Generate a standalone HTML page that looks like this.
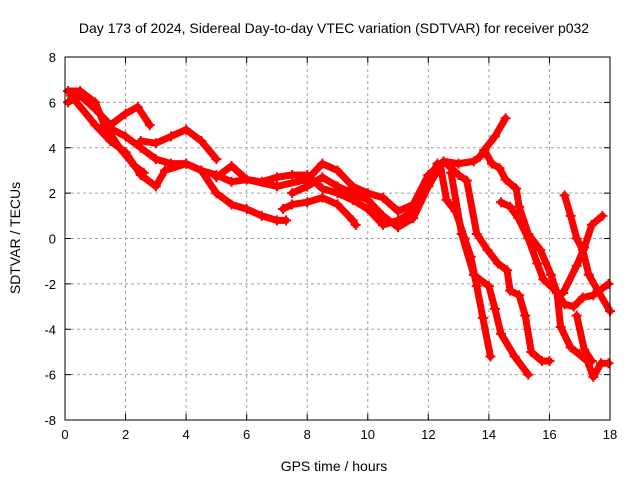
<!DOCTYPE html>
<html><head><meta charset="utf-8"><style>
body{margin:0;background:#fff}
svg{display:block;font-family:"Liberation Sans",sans-serif}
</style></head><body>
<svg id="chart" width="640" height="480" viewBox="0 0 640 480">
<text x="334" y="33" font-size="14" text-anchor="middle">Day 173 of 2024, Sidereal Day-to-day VTEC variation (SDTVAR) for receiver p032</text>
<text x="334" y="471" font-size="14" text-anchor="middle">GPS time / hours</text>
<text x="20" y="238" font-size="14" text-anchor="middle" transform="rotate(-90 20 238)">SDTVAR / TECUs</text>
<g id="grid"></g><g id="ticks"></g><g id="series"></g>
<rect x="65" y="57" width="545" height="363" fill="none" stroke="#000" stroke-width="1"/>
</svg>
<script>
const xTicks=[0,2,4,6,8,10,12,14,16,18];
const yTicks=[-8,-6,-4,-2,0,2,4,6,8];
const trackA=[[0.1,6.5],[0.5,6.5],[1,6],[1.3,5],[2,4.5],[2.5,4],[3,3.5],[3.5,3.3],[4,3.3],[4.5,3],[5,2.8],[5.5,2.5],[6,2.6],[6.5,2.5],[7,2.7],[7.5,2.8],[8,2.8],[8.5,2.2],[9,2],[9.5,1.7],[10,1.3],[10.5,0.6],[11,0.8],[11.5,1.2],[12,2.5],[12.3,3.3]];
const trackB=[[0.1,6],[0.5,6.3],[1,5.7],[1.5,5],[2,5.5],[2.4,5.8],[2.8,5]];
const trackB2=[[2.5,4.3],[3,4.2],[3.5,4.5],[4,4.8],[4.5,4.3],[5,3.5]];
const trackC=[[0.2,6.3],[1,5],[1.5,4.3],[2,3.8],[2.5,2.8],[3,2.3],[3.3,3],[4,3.3],[4.5,3],[5,2],[5.5,1.5],[6,1.3],[6.5,1],[7,0.8],[7.3,0.8]];
const trackC2=[[1.3,5],[1.8,4],[2.3,3.2],[2.6,2.9]];
const trackD=[[7.2,1.3],[7.5,1.5],[8,1.6],[8.5,1.8],[9,1.5],[9.5,0.8],[9.6,0.6]];
const trackE=[[5,2.7],[5.5,3.2],[6,2.6],[7,2.3],[8,2.6],[8.5,3.3],[9,3],[9.5,2.3],[10,2],[10.5,1.8],[11,1.2],[11.5,1.5],[12,2.8],[12.5,3.4],[13,3.3],[13.5,3.4],[13.7,3.6],[13.85,3.9],[14.2,4.5],[14.55,5.3]];
const trackF=[[7.5,2],[8,2.3],[8.5,2.7],[9,2.3],[10,1.7],[10.5,1],[11,0.5],[11.5,0.9],[12,2.3],[12.4,3.2],[12.6,1.7],[12.9,1.2],[13.2,0],[13.4,-0.8],[13.6,-2.1],[13.8,-3.5],[14.05,-5.2]];
const trackG=[[12.6,3.3],[13,2.8],[13.27,2.55],[13.6,0.2],[13.95,-0.5],[14.3,-1.1],[14.6,-1.4],[14.7,-2.3],[15,-2.5],[15.2,-3.4],[15.4,-5],[15.75,-5.4],[16,-5.4]];
const trackH=[[12.75,2.9],[13.1,0.2],[13.5,-1.6],[14,-2.1],[14.2,-3.1],[14.4,-4.2],[14.85,-5.2],[15.3,-6]];
const trackI=[[13.85,3.9],[14.1,3.3],[14.35,3.1],[14.55,2.6],[14.9,2.2],[15,1.4],[15.3,0.2],[15.7,-0.5],[16.05,-1.6],[16.25,-2.4],[16.37,-3.9],[16.7,-4.8],[17.25,-5.4],[17.45,-6.1],[17.7,-5.5],[17.95,-5.5]];
const trackJ=[[14.4,1.6],[14.7,1.4],[14.97,0.9],[15.3,0],[15.6,-1.1],[15.8,-1.8],[16.2,-2.3],[16.5,-2.9],[16.8,-3],[17.1,-2.6],[17.45,-2.5],[17.95,-2]];
const trackK=[[16.5,1.9],[16.7,1],[16.9,0],[17.1,-0.5],[17.3,-1.6],[17.6,-2.3],[18,-3.2]];
const trackL=[[16.45,-2.4],[16.9,-1.2],[17.15,-0.4],[17.4,0.6],[17.75,1]];
const trackM=[[16.9,-3.4],[17.15,-4.9],[17.4,-5.4]];
const tracks=[trackA,trackB,trackB2,trackC,trackC2,trackD,trackE,trackF,trackG,trackH,trackI,trackJ,trackK,trackL,trackM];
const X0=65,X1=610,Y0=420,Y1=57;
function xs(t){return X0+(t-0)/(18-0)*(X1-X0);}
function ys(v){return Y0-(v+8)/16*(Y0-Y1);}
const NS='http://www.w3.org/2000/svg';
function mk(tag,attrs,parent){const e=document.createElementNS(NS,tag);for(const k in attrs)e.setAttribute(k,attrs[k]);parent.appendChild(e);return e;}
const grid=document.getElementById('grid'),ticks=document.getElementById('ticks'),series=document.getElementById('series');
xTicks.forEach(t=>{const x=xs(t);
 if(t>0&&t<18){const g=mk('line',{x1:x,y1:Y0,x2:x,y2:Y1,stroke:'#a0a0a0','stroke-dasharray':'3,3'},grid);
 
 }
 mk('line',{x1:x,y1:Y0,x2:x,y2:Y0-6,stroke:'#000'},ticks);
 mk('line',{x1:x,y1:Y1,x2:x,y2:Y1+6,stroke:'#000'},ticks);
 const l=mk('text',{x:x,y:Y0+19,'font-size':13,'text-anchor':'middle'},ticks);l.textContent=t;
 
 
});
yTicks.forEach(v=>{const y=ys(v);
 if(v>-8&&v<8){const g=mk('line',{x1:X0,y1:y,x2:X1,y2:y,stroke:'#a0a0a0','stroke-dasharray':'3,3'},grid);
 
 }
 mk('line',{x1:X0,y1:y,x2:X0+6,y2:y,stroke:'#000'},ticks);
 mk('line',{x1:X1,y1:y,x2:X1-6,y2:y,stroke:'#000'},ticks);
 const l=mk('text',{x:X0-9,y:y+5,'font-size':13,'text-anchor':'end'},ticks);l.textContent=v;
 
 
});
tracks.forEach((tr,i)=>{
 const p=mk('polyline',{points:tr.map(d=>xs(d[0])+','+ys(d[1])).join(' '),fill:'none',stroke:'#f00','stroke-width':7,'stroke-linejoin':'round','stroke-linecap':'round'},series);
 
 
 tr.forEach(d=>{const x=xs(d[0]),y=ys(d[1]);
  const m=mk('path',{d:`M${x-5},${y}H${x+5}M${x},${y-5}V${y+5}`,stroke:'#f00','stroke-width':2},series);
  
  
 });
});
</script>
</body></html>
